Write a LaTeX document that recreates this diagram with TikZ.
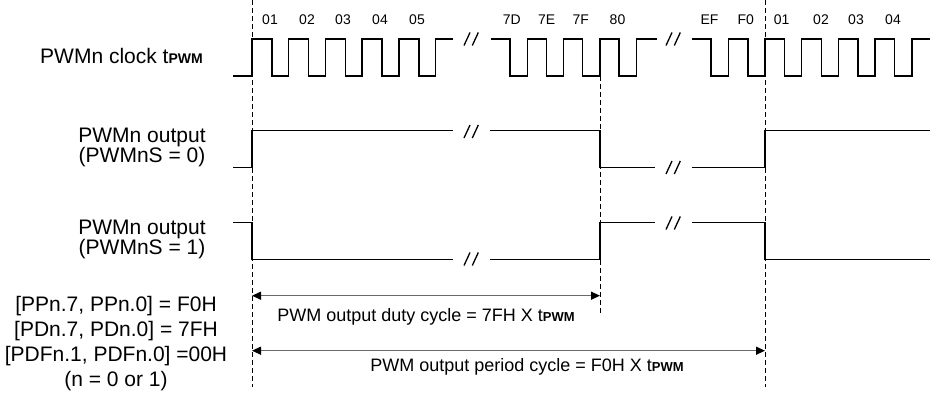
\documentclass[tikz,border=0pt]{standalone}
\usepackage{fontspec}
\setmainfont{Liberation Sans}
\usetikzlibrary{arrows.meta}
\definecolor{DimGray}{RGB}{105,105,105}
\newcommand{\tpwm}[1]{t{\fontsize{#1}{#1}\selectfont\bfseries PWM}}

\begin{document}
\begin{tikzpicture}[x=1pt,y=-1pt,
    sig/.style={line width=1.4pt},
    guide/.style={line width=0.7pt, dash pattern=on 5pt off 3pt},
    dim/.style={DimGray, line width=1.3pt,
      {Triangle[length=9pt,width=8pt,color=black]}-{Triangle[length=9pt,width=8pt,color=black]}},
    brk/.style={line width=1.3pt},
    lbl/.style={inner sep=0pt, font=\fontsize{21}{19}\selectfont, align=center},
    num/.style={inner sep=0pt, anchor=base, font=\fontsize{14}{14}\selectfont}]
  \useasboundingbox (0,0) rectangle (936,395);

  % clock
  \draw[sig] (233,76) -- (252,76)
    \foreach \k in {0,...,4} { -- ++(0,-37) -- ++(20,0) -- ++(0,37) -- ++(16.7,0) }
    -- ++(0,-37) -- (453,39);
  \draw[sig] (490.8,39)
    \foreach \k in {0,...,3} { -- ++(19,0) -- ++(0,37) -- ++(17.4,0) -- ++(0,-37) }
    -- (656.7,39);
  \draw[sig] (691.6,39)
    \foreach \k in {0,...,5} { -- ++(19.5,0) -- ++(0,37) -- ++(17.2,0) -- ++(0,-37) }
    -- (930,39);
  \foreach \x/\t [count=\i] in {270/01,307/02,343/03,380/04,417/05,511.7/7D,546.7/7E,580.7/7F,
      617.5/80,709.5/EF,745.8/F0,781.7/01,821/02,856/03,893/04}
    \node[num] (c\i) at (\x,25) {\t};

  % outputs
  \draw[sig] (233,167.3) -- (252,167.3) -- (252,130.7) -- (453,130.7);
  \draw[sig] (490,130.7) -- (600,130.7) -- (600,167.3) -- (655,167.3);
  \draw[sig] (691.7,167.3) -- (765,167.3) -- (765,130.7) -- (930,130.7);
  \draw[sig] (233,222.7) -- (252,222.7) -- (252,259.3) -- (453,259.3);
  \draw[sig] (490,259.3) -- (600,259.3) -- (600,222.7) -- (655,222.7);
  \draw[sig] (691.7,222.7) -- (765,222.7) -- (765,259.3) -- (930,259.3);

  % breaks
  \foreach \x/\y in {471/39,471/131.5,471/259,673/39,673/167.5,673/223}
    \draw[brk] ({\x-7},{\y+6.5}) -- ++(6,-13) ({\x+1.3},{\y+6.5}) -- ++(6,-13);

  % guides and cycles
  \coordinate (start) at (252,0);
  \coordinate (duty) at (600,76);
  \coordinate (period) at (765,0);
  \draw[guide] (start) -- ++(0,387);
  \draw[guide] (duty) -- (600,313);
  \draw[guide] (period) -- ++(0,387);
  \draw[dim] (start |- 0,295.7) -- (duty |- 0,295.7);
  \draw[dim] (start |- 0,350.7) -- (period |- 0,350.7);
  \node[anchor=base, inner sep=0pt, font=\fontsize{18}{18}\selectfont] (dutytxt) at (426,321.7)
    {PWM output duty cycle = 7FH X \tpwm{13}};
  \node[anchor=base, inner sep=0pt, font=\fontsize{18}{18}\selectfont] (pertxt) at (527,371.7)
    {PWM output period cycle = F0H X \tpwm{13}};

  % labels
  \node[lbl, anchor=base east] (clk) at (203,64) {PWMn clock \tpwm{14}};
  \node[lbl] (out0) at (142,147.6) {PWMn output\\(PWMnS = 0)};
  \node[lbl] (out1) at (142,239.6) {PWMn output\\(PWMnS = 1)};
  \node[lbl, font=\fontsize{21}{25}\selectfont] (regs) at (116,343.2)
    {{[}PPn.7, PPn.0] = F0H\\ {[}PDn.7, PDn.0] = 7FH\\ {[}PDFn.1, PDFn.0] =00H\\ (n = 0 or 1)};
\end{tikzpicture}
\end{document}
